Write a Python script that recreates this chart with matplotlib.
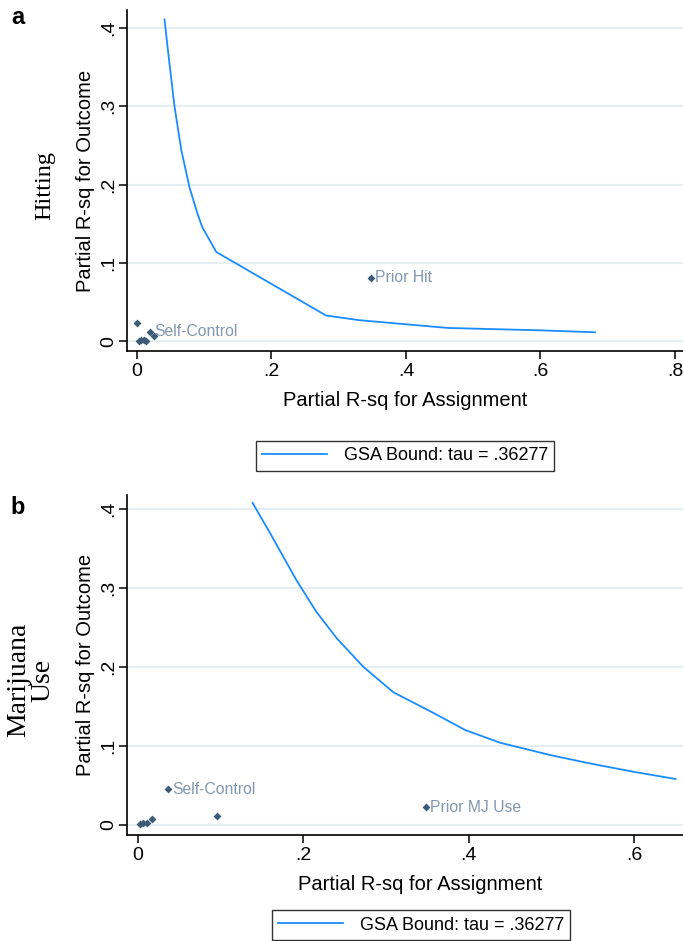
import matplotlib.pyplot as plt
from matplotlib.lines import Line2D

# Datos leidos de la figura
# panel a: Hitting
a_curve_x = [0.041, 0.046, 0.056, 0.066, 0.078, 0.090, 0.097, 0.118, 0.281, 0.330, 0.400, 0.463, 0.600, 0.681]
a_curve_y = [0.411, 0.372, 0.299, 0.244, 0.197, 0.163, 0.146, 0.114, 0.033, 0.027, 0.0217, 0.017, 0.014, 0.0115]
a_pts_x = [0.0006, 0.0025, 0.0065, 0.011, 0.014, 0.020, 0.025, 0.348]
a_pts_y = [0.023, 0.0, 0.0013, 0.002, 0.001, 0.012, 0.0064, 0.0813]
a_labels = {5: 'Self-Control', 7: 'Prior Hit'}

# panel b: Marijuana Use
b_curve_x = [0.139, 0.160, 0.192, 0.216, 0.241, 0.273, 0.309, 0.357, 0.396, 0.438, 0.500, 0.550, 0.600, 0.650]
b_curve_y = [0.408, 0.370, 0.310, 0.270, 0.236, 0.200, 0.168, 0.142, 0.120, 0.104, 0.088, 0.077, 0.067, 0.058]
b_pts_x = [0.003, 0.007, 0.011, 0.017, 0.0365, 0.0956, 0.348]
b_pts_y = [0.001, 0.002, 0.0024, 0.0067, 0.045, 0.0113, 0.022]
b_labels = {4: 'Self-Control', 6: 'Prior MJ Use'}

a_xticks = [0, 0.2, 0.4, 0.6, 0.8]
b_xticks = [0, 0.2, 0.4, 0.6]
yticks = [0, 0.1, 0.2, 0.3, 0.4]

def fmt(v):
    return '0' if v == 0 else ('%.1f' % v).lstrip('0')

legend_text = 'GSA Bound: tau = .36277'

LINE = '#1a8cff'
MARK = '#3b5b78'
LAB = '#8197ae'
GRID = '#e6eef1'

plt.rcParams['font.family'] = ['Liberation Sans', 'DejaVu Sans']

fig = plt.figure(figsize=(6.83, 9.41), dpi=100)
W, H = 683.0, 941.0


def panel(rect, cx, cy, px, py, labels, xticks, xlim, ylim, xlab_x):
    ax = fig.add_axes(rect)
    ax.plot(cx, cy, color=LINE, lw=1.3, zorder=3)
    ax.scatter(px, py, marker='D', s=16, color=MARK, zorder=4, linewidths=0)
    for i, t in labels.items():
        ax.annotate(t, (px[i], py[i]), xytext=(3, 0), textcoords='offset points',
                    va='center', ha='left', color=LAB, fontsize=11.3)
    ax.set_xlim(*xlim)
    ax.set_ylim(*ylim)
    ax.set_xticks(xticks)
    ax.set_xticklabels([fmt(v) for v in xticks])
    ax.set_yticks(yticks)
    ax.set_yticklabels([fmt(v) for v in yticks], rotation=90, va='center')
    for v in yticks:
        ax.axhline(v, color=GRID, lw=1.6, zorder=1)
    ax.spines['top'].set_visible(False)
    ax.spines['right'].set_visible(False)
    ax.spines['left'].set_linewidth(1.2)
    ax.spines['bottom'].set_linewidth(1.2)
    ax.tick_params(direction='out', length=6, width=1.1, labelsize=14, pad=3)
    ax.tick_params(axis='y', pad=1)
    ax.set_xlabel('Partial R-sq for Assignment', fontsize=14.5)
    ax.xaxis.set_label_coords(xlab_x, -0.118)
    ax.set_ylabel('Partial R-sq for Outcome', fontsize=14.5)
    ax.yaxis.set_label_coords(-0.058, 0.5)
    return ax


ax1 = panel([127 / W, 1 - 351 / H, 556 / W, 341 / H], a_curve_x, a_curve_y,
            a_pts_x, a_pts_y, a_labels, a_xticks, (-0.0148, 0.812), (-0.0124, 0.423), 0.5)
ax2 = panel([127 / W, 1 - 835 / H, 556 / W, 340 / H], b_curve_x, b_curve_y,
            b_pts_x, b_pts_y, b_labels, b_xticks, (-0.0127, 0.659), (-0.013, 0.418), 0.527)

# leyendas
h = [Line2D([], [], color=LINE, lw=1.3)]
for cx, cy in [(405, 456), (421, 925)]:
    leg = fig.legend(h, [legend_text], loc='center', bbox_to_anchor=(cx / W, 1 - cy / H),
                     fontsize=13, frameon=True, fancybox=False, handlelength=3.6,
                     borderpad=0.35, handletextpad=0.9)
    leg.get_frame().set_edgecolor('black')
    leg.get_frame().set_linewidth(1.0)

# etiquetas de fila y letras de panel
fig.text(45 / W, 1 - 185 / H, 'Hitting', rotation=90, ha='center', va='center',
         fontsize=17.5, family='Liberation Serif')
fig.text(31 / W, 1 - 680 / H, 'Marijuana\nUse', rotation=90, ha='center', va='center',
         fontsize=20, family='Liberation Serif', linespacing=0.95, multialignment='center')
fig.text(18 / W, 1 - 18 / H, 'a', ha='center', va='center', fontsize=17, weight='bold')
fig.text(18 / W, 1 - 507 / H, 'b', ha='center', va='center', fontsize=17, weight='bold')

fig.savefig('out.png', dpi=100)
